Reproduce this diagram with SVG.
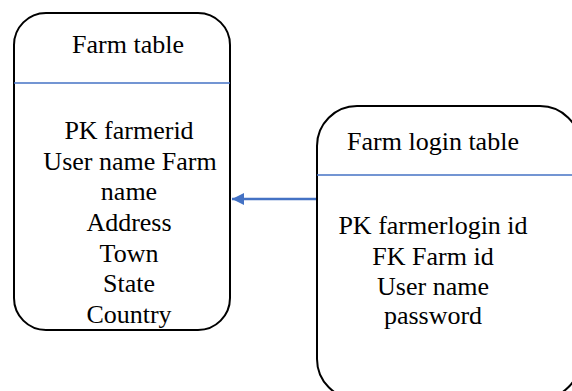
<svg xmlns="http://www.w3.org/2000/svg" width="572" height="391" viewBox="0 0 572 391">
<defs>
<style>
.box{fill:#fff;stroke:#000;stroke-width:2}
.div{stroke:#4472C4;stroke-width:1.5}
.conn{stroke:#4472C4;stroke-width:2.5;fill:none}
</style>
<marker id="ah" viewBox="0 0 10 10" refX="10" refY="5" markerWidth="14" markerHeight="12" markerUnits="userSpaceOnUse" orient="auto">
<path d="M0,0 L10,5 L0,10 z" fill="#4472C4"/>
</marker>
</defs>
<g id="farm-table">
<rect class="box" x="14" y="13" width="216" height="317" rx="32" ry="32"/>
<line class="div" x1="14" y1="83" x2="230" y2="83"/>
<g font-family="Liberation Serif, Times New Roman, serif" font-size="26" text-anchor="middle" fill="#000">
<text x="128" y="53">Farm table</text>
<text x="129" y="139">PK farmerid</text>
<text x="130" y="170">User name Farm</text>
<text x="129" y="200">name</text>
<text x="129" y="231">Address</text>
<text x="129" y="262">Town</text>
<text x="129" y="292">State</text>
<text x="129" y="323">Country</text>
</g>
</g>
<g id="farm-login-table">
<rect class="box" x="317" y="106" width="263" height="293" rx="40" ry="40"/>
<line class="div" x1="317" y1="175" x2="572" y2="175"/>
<g font-family="Liberation Serif, Times New Roman, serif" font-size="26" text-anchor="middle" fill="#000">
<text x="433" y="150">Farm login table</text>
<text x="433" y="234">PK farmerlogin id</text>
<text x="433" y="265">FK Farm id</text>
<text x="433" y="295">User name</text>
<text x="433" y="324">password</text>
</g>
</g>
<g id="connectors">
<line class="conn" x1="316" y1="199" x2="232" y2="199" marker-end="url(#ah)"/>
</g>
</svg>
